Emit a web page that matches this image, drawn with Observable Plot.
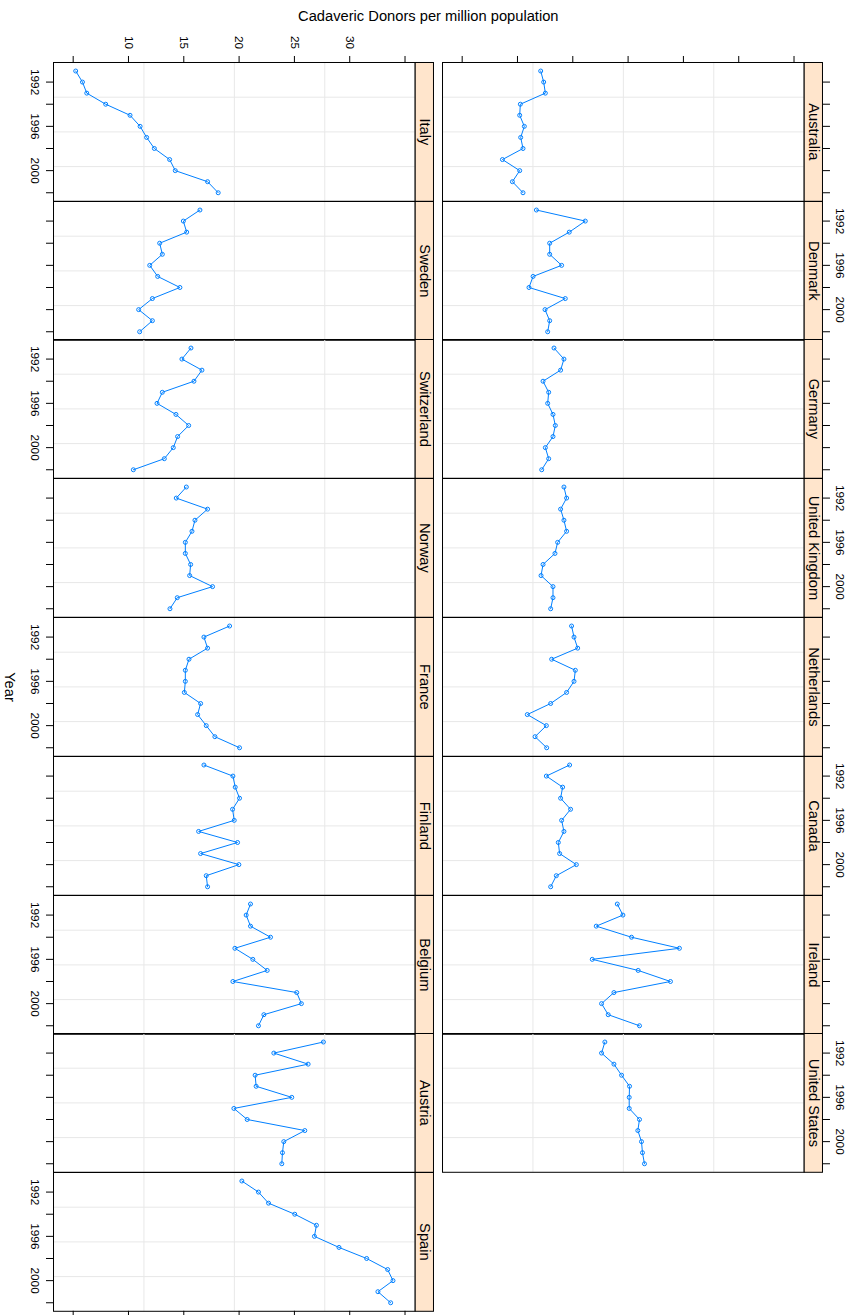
<!DOCTYPE html>
<html>
<head>
<meta charset="utf-8">
<script src="https://cdn.jsdelivr.net/npm/d3@7"></script>
<script src="https://cdn.jsdelivr.net/npm/@observablehq/plot@0.6"></script>
<style>
  html, body { margin: 0; padding: 0; background: #fff; overflow: hidden; }
  #chart { position: relative; width: 854px; height: 1315px; font-family: "Liberation Sans", Arial, Helvetica, sans-serif; color: #000; }
  #title { position: absolute; left: 428.3px; top: 8px; transform: translateX(-50%); white-space: nowrap; font-size: 14.7px; }
  #ylab { position: absolute; left: 10px; top: 686.7px; transform: translate(-50%, -50%) rotate(90deg); font-size: 14.7px; line-height: 1; white-space: nowrap; }
</style>
</head>
<body>
<div id="chart">
  <div id="title">Cadaveric Donors per million population</div>
  <div id="ylab">Year</div>
</div>
<script>
// ---- data ----
const years = [1991, 1992, 1993, 1994, 1995, 1996, 1997, 1998, 1999, 2000, 2001, 2002];

const italy       = [5.23, 5.84, 6.23, 7.94, 10.14, 11.05, 11.64, 12.34, 13.72, 14.23, 17.15, 18.11];
const sweden      = [16.46, 14.96, 15.26, 12.82, 13.06, 11.92, 12.64, 14.65, 12.16, 10.92, 12.16, 11.01];
const switzerland = [15.65, 14.83, 16.64, 15.92, 13.06, 12.58, 14.29, 15.44, 14.44, 14.05, 13.24, 10.44];
const norway      = [15.23, 14.32, 17.15, 16.01, 15.74, 15.14, 15.14, 15.62, 15.53, 17.60, 14.41, 13.75];
const france      = [19.14, 16.82, 17.15, 15.47, 15.14, 15.14, 15.05, 16.52, 16.25, 17.03, 17.81, 20.04];
const finland     = [16.82, 19.44, 19.65, 20.04, 19.41, 19.56, 16.34, 19.86, 16.52, 19.98, 17.03, 17.15];
const belgium     = [21.03, 20.64, 21.03, 22.84, 19.62, 21.24, 22.54, 19.44, 25.21, 25.63, 22.24, 21.75];
const austria     = [27.62, 23.14, 26.24, 21.45, 21.54, 24.76, 19.53, 20.73, 25.94, 24.04, 23.92, 23.86];
const spain       = [20.25, 21.75, 22.66, 25.03, 26.99, 26.81, 29.03, 31.53, 33.43, 33.91, 32.55, 33.70];

const australia    = [12.10, 12.37, 12.52, 10.26, 10.20, 10.62, 10.29, 10.50, 8.64, 10.20, 9.54, 10.50];
const denmark      = [11.71, 16.13, 14.68, 12.91, 12.91, 13.99, 11.41, 11.04, 14.32, 12.49, 12.91, 12.73];
const germany      = [13.30, 14.20, 13.90, 12.31, 12.82, 12.73, 13.21, 13.42, 13.21, 12.52, 12.82, 12.19];
const unitedKingdom = [14.20, 14.44, 13.90, 14.20, 14.44, 13.63, 13.39, 12.31, 12.13, 13.21, 13.21, 13.00];
const netherlands  = [14.89, 15.11, 15.44, 13.09, 15.23, 15.11, 14.44, 13.00, 10.89, 12.61, 11.59, 12.64];
const canada       = [14.71, 12.61, 14.08, 13.90, 14.80, 13.99, 14.20, 13.69, 13.81, 15.32, 13.51, 13.00];
const ireland      = [19.02, 19.53, 17.12, 20.31, 24.64, 16.76, 20.91, 23.83, 18.72, 17.60, 18.20, 21.03];
const unitedStates = [17.90, 17.60, 18.72, 19.41, 20.13, 20.10, 20.10, 21.03, 20.88, 21.21, 21.30, 21.48];

const leftNames  = ["Italy", "Sweden", "Switzerland", "Norway", "France", "Finland", "Belgium", "Austria", "Spain"];
const leftSeries = [italy, sweden, switzerland, norway, france, finland, belgium, austria, spain];
const rightNames  = ["Australia", "Denmark", "Germany", "United Kingdom", "Netherlands", "Canada", "Ireland", "United States"];
const rightSeries = [australia, denmark, germany, unitedKingdom, netherlands, canada, ireland, unitedStates];

const donorTicks  = [5, 10, 15, 20, 25, 30, 35];
const donorLabels = [10, 15, 20, 25, 30];
const yearTicks   = [1992, 1994, 1996, 1998, 2000, 2002];
const yearLabels  = [1992, 1996, 2000];

// ---- scales shared by all panels (lattice-style 7% padding) ----
const allValues = leftSeries.concat(rightSeries).flat();
const [vmin, vmax] = d3.extent(allValues);
const vpad = 0.07 * (vmax - vmin);
const xDomain = [vmin - vpad, vmax + vpad];
const [ymin, ymax] = d3.extent(years);
const ypad = 0.07 * (ymax - ymin);
const yDomain = [ymin - ypad, ymax + ypad];
const gridX = [1, 2, 3].map(k => xDomain[0] + k * (xDomain[1] - xDomain[0]) / 4);
const gridY = [1, 2, 3].map(k => yDomain[0] + k * (yDomain[1] - yDomain[0]) / 4);

// ---- layout ----
const PW = 361.7, PH = 138.8, TOP = 61.7, STRIP = 18.3;
const COLX = [53.3, 442.3];
const ML = 50, MR = 60, MT = 62, MB = 14;
const BLUE = "#0080ff", GRID = "#e8e8e8", STRIPFILL = "#ffe5cc";
const centered = {textAnchor: "middle", lineAnchor: "middle", rotate: 90, fill: "#000"};

const chart = document.getElementById("chart");

function drawPanel(name, values, col, row) {
  const data = years.map((year, i) => ({year, value: values[i]}));
  const marks = [
    Plot.ruleX(gridX, {stroke: GRID, strokeWidth: 1}),
    Plot.ruleY(gridY, {stroke: GRID, strokeWidth: 1}),
    Plot.line(data, {x: "value", y: "year", stroke: BLUE, strokeWidth: 1}),
    Plot.dot(data, {x: "value", y: "year", r: 2, stroke: BLUE, strokeWidth: 1, fill: "none"}),
    Plot.frame({stroke: "#000", strokeWidth: 1}),
    Plot.frame({fill: STRIPFILL, stroke: "#000", strokeWidth: 1, insetLeft: PW, insetRight: -STRIP}),
    Plot.text([name], {...centered, frameAnchor: "right", dx: STRIP / 2, fontSize: 14.7})
  ];
  if (col === 0) {
    marks.push(Plot.axisY(yearTicks, {anchor: "left", tickSize: 7, fill: "none", stroke: "#000", label: null}));
    if (row % 2 === 0) {
      marks.push(Plot.text(yearLabels, {...centered, y: d => d, text: d => String(d), frameAnchor: "left", dx: -18.3, fontSize: 11.8}));
    }
  } else {
    marks.push(Plot.axisY(yearTicks, {anchor: "right", tickSize: 7, fill: "none", stroke: "#000", dx: STRIP, label: null}));
    if (row % 2 === 1) {
      marks.push(Plot.text(yearLabels, {...centered, y: d => d, text: d => String(d), frameAnchor: "right", dx: 35.7, fontSize: 11.8}));
    }
  }
  if (row === 0) {
    marks.push(Plot.axisX(donorTicks, {anchor: "top", tickSize: 7, fill: "none", stroke: "#000", label: null}));
    if (col === 0) {
      marks.push(Plot.text(donorLabels, {...centered, x: d => d, text: d => String(d), frameAnchor: "top", dy: -20, fontSize: 11.8}));
    }
  }
  if (col === 0 && row === leftNames.length - 1) {
    marks.push(Plot.axisX(donorTicks, {anchor: "bottom", tickSize: 7, fill: "none", stroke: "#000", label: null}));
  }
  const svg = Plot.plot({
    width: PW + ML + MR,
    height: PH + MT + MB,
    marginLeft: ML, marginRight: MR, marginTop: MT, marginBottom: MB,
    x: {domain: xDomain, axis: null},
    y: {domain: yDomain, reverse: true, axis: null},
    style: "background: transparent; overflow: visible; color: #000; font-family: 'Liberation Sans', Arial, Helvetica, sans-serif; max-width: none;",
    marks
  });
  svg.style.position = "absolute";
  svg.style.left = (COLX[col] - ML) + "px";
  svg.style.top = (TOP + row * PH - MT) + "px";
  chart.appendChild(svg);
}

leftNames.forEach((name, i) => drawPanel(name, leftSeries[i], 0, i));
rightNames.forEach((name, i) => drawPanel(name, rightSeries[i], 1, i));
</script>
</body>
</html>
